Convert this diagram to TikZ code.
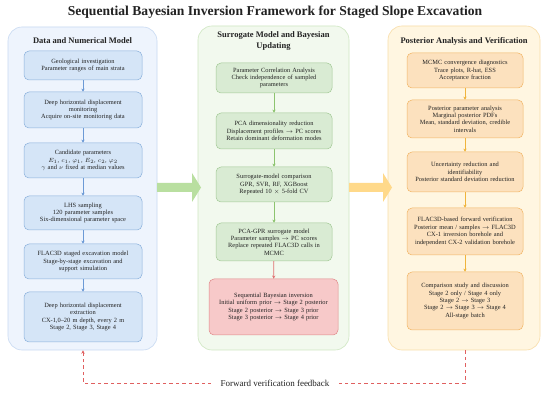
\documentclass[tikz,border=0pt]{standalone}
\usepackage{fontspec}
\setmainfont{Liberation Serif}
\usetikzlibrary{arrows.meta,calc}
\definecolor{txt}{HTML}{222222}
\definecolor{lpfill}{HTML}{EEF4FD}
\definecolor{lpdraw}{HTML}{C8DAF2}
\definecolor{lbfill}{HTML}{D5E5F7}
\definecolor{lbdraw}{HTML}{8AB0DC}
\definecolor{larr}{HTML}{6C9AD6}
\definecolor{mpfill}{HTML}{F2F9EE}
\definecolor{mpdraw}{HTML}{CFE7C2}
\definecolor{mbfill}{HTML}{D9EBD3}
\definecolor{mbdraw}{HTML}{A3C996}
\definecolor{marr}{HTML}{8DC46F}
\definecolor{rbfill}{HTML}{F7C9C9}
\definecolor{rbdraw}{HTML}{E08A8A}
\definecolor{rarr}{HTML}{E07070}
\definecolor{rpfill}{HTML}{FFF6E1}
\definecolor{rpdraw}{HTML}{F8DDA8}
\definecolor{obfill}{HTML}{FCE1BE}
\definecolor{obdraw}{HTML}{F2B565}
\definecolor{oarr}{HTML}{F0B43C}
\definecolor{biggreen}{HTML}{B9DFA0}
\definecolor{bigorange}{HTML}{FFD98A}
\definecolor{fbred}{HTML}{E06060}
\begin{document}
\begin{tikzpicture}[x=1pt,y=-1pt,
  panel/.style={rounded corners=14pt, line width=0.6pt},
  hdr/.style={font=\fontsize{8.5}{11.5}\selectfont\bfseries, text=txt, align=center},
  box/.style={rounded corners=5pt, align=center, font=\fontsize{6.4}{7.4}\selectfont,
    inner sep=1pt, line width=0.5pt, text=txt},
  lbox/.style={box, fill=lbfill, draw=lbdraw, minimum width=118pt, text width=116pt},
  mbox/.style={box, fill=mbfill, draw=mbdraw, minimum width=116pt, text width=114pt},
  obox/.style={box, fill=obfill, draw=obdraw, minimum width=116pt, text width=114pt},
  tipk/.style={-{Stealth[length=3.2pt,width=3.2pt]}, line width=0.8pt},
  la/.style={tipk, draw=larr},
  ma/.style={tipk, draw=marr},
  ra/.style={tipk, draw=rarr},
  oa/.style={tipk, draw=oarr},
  fb/.style={draw=fbred, line width=0.8pt, dash pattern=on 3.5pt off 3pt}
]
\useasboundingbox (0,0) rectangle (550,393);
\fill[white] (0,0) rectangle (550,393);

\node[font=\fontsize{13.6}{16}\selectfont\bfseries, text=txt] (title) at (275,12)
  {Sequential Bayesian Inversion Framework for Staged Slope Excavation};

% panels
\node[panel, fill=lpfill, draw=lpdraw, minimum width=149pt, minimum height=323pt] (LP) at (82.5,188.5) {};
\node[panel, fill=mpfill, draw=mpdraw, minimum width=151pt, minimum height=324pt] (MP) at (273.5,188) {};
\node[panel, fill=rpfill, draw=rpdraw, minimum width=152pt, minimum height=324pt] (RP) at (464,188) {};

\node[hdr] (LH) at (82.5,41) {Data and Numerical Model};
\node[hdr] (MH) at (273.5,41) {Surrogate Model and Bayesian\\Updating};
\node[hdr] (RH) at (464,41) {Posterior Analysis and Verification};

% left column
\node[lbox, minimum height=29pt] (L1) at (83,65.5) {Geological investigation\\Parameter ranges of main strata};
\node[lbox, minimum height=36pt] (L2) at (83,110) {Deep horizontal displacement\\monitoring\\Acquire on-site monitoring data};
\node[lbox, minimum height=35pt] (L3) at (83,160.5) {Candidate parameters\\$E_1$, $c_1$, $\varphi_1$, $E_2$, $c_2$, $\varphi_2$\\$\gamma$ and $\nu$ fixed at median values};
\node[lbox, minimum height=34pt] (L4) at (83,213) {LHS sampling\\120 parameter samples\\Six-dimensional parameter space};
\node[lbox, minimum height=35pt] (L5) at (83,261.5) {FLAC3D staged excavation model\\Stage-by-stage excavation and\\support simulation};
\node[lbox, minimum height=50pt] (L6) at (83,317) {Deep horizontal displacement\\extraction\\CX-1,0--20 m depth, every 2 m\\Stage 2, Stage 3, Stage 4};
\draw[la] (L1) -- (L2);
\draw[la] (L2) -- (L3);
\draw[la] (L3) -- (L4);
\draw[la] (L4) -- (L5);
\draw[la] (L5) -- (L6);

% middle column
\node[mbox, minimum height=30pt] (M1) at (274,78) {Parameter Correlation Analysis\\Check independence of sampled\\parameters};
\node[mbox, minimum height=36pt] (M2) at (274,131) {PCA dimensionality reduction\\Displacement profiles $\rightarrow$ PC scores\\Retain dominant deformation modes};
\node[mbox, minimum height=35pt] (M3) at (274,184.5) {Surrogate-model comparison\\GPR, SVR, RF, XGBoost\\Repeated 10 $\times$ 5-fold CV};
\node[mbox, minimum height=38pt] (M4) at (274,242) {PCA-GPR surrogate model\\Parameter samples $\rightarrow$ PC scores\\Replace repeated FLAC3D calls in\\MCMC};
\node[box, fill=rbfill, draw=rbdraw, minimum width=129pt, text width=127pt, minimum height=56pt] (M5) at (273.5,307)
  {Sequential Bayesian inversion\\Initial uniform prior $\rightarrow$ Stage 2 posterior\\Stage 2 posterior $\rightarrow$ Stage 3 prior\\Stage 3 posterior $\rightarrow$ Stage 4 prior};
\draw[ma] (M1) -- (M2);
\draw[ma] (M2) -- (M3);
\draw[ma] (M3) -- (M4);
\draw[ra] (M4) -- (M5);

% right column
\node[obox, minimum height=35pt] (R1) at (465,70.5) {MCMC convergence diagnostics\\Trace plots, R-hat, ESS\\Acceptance fraction};
\node[obox, minimum height=38pt] (R2) at (465,119) {Posterior parameter analysis\\Marginal posterior PDFs\\Mean, standard deviation, credible\\intervals};
\node[obox, minimum height=40pt] (R3) at (465,172) {Uncertainty reduction and\\identifiability\\Posterior standard deviation reduction};
\node[obox, minimum height=47pt] (R4) at (465,231.5) {FLAC3D-based forward verification\\Posterior mean / samples $\rightarrow$ FLAC3D\\CX-1 inversion borehole and\\independent CX-2 validation borehole};
\node[obox, minimum height=58pt] (R5) at (465,301) {Comparison study and discussion\\Stage 2 only / Stage 4 only\\Stage 2 $\rightarrow$ Stage 3\\Stage 2 $\rightarrow$ Stage 3 $\rightarrow$ Stage 4\\All-stage batch};
\draw[oa] (R1) -- (R2);
\draw[oa] (R2) -- (R3);
\draw[oa] (R3) -- (R4);
\draw[oa] (R4) -- (R5);

% big arrows between panels
\fill[biggreen] (157,183) -- (192,183) -- (192,173) -- (201,187.5) -- (192,202) -- (192,192) -- (157,192) -- cycle;
\fill[bigorange] (349,183) -- (383,183) -- (383,173) -- (392,187.5) -- (383,202) -- (383,192) -- (349,192) -- cycle;

% feedback
\coordinate (fbR) at (465,383);
\coordinate (fbL) at (83,383);
\draw[fb, -{Stealth[length=3.5pt,width=3.5pt]}] (RP.south -| R5) -- (fbR) -- (fbL) -- (LP.south -| L6);
\node[fill=white, inner xsep=10pt, inner ysep=2pt, font=\fontsize{9}{11}\selectfont, text=txt] (FB) at (275,383) {Forward verification feedback};
\end{tikzpicture}
\end{document}
